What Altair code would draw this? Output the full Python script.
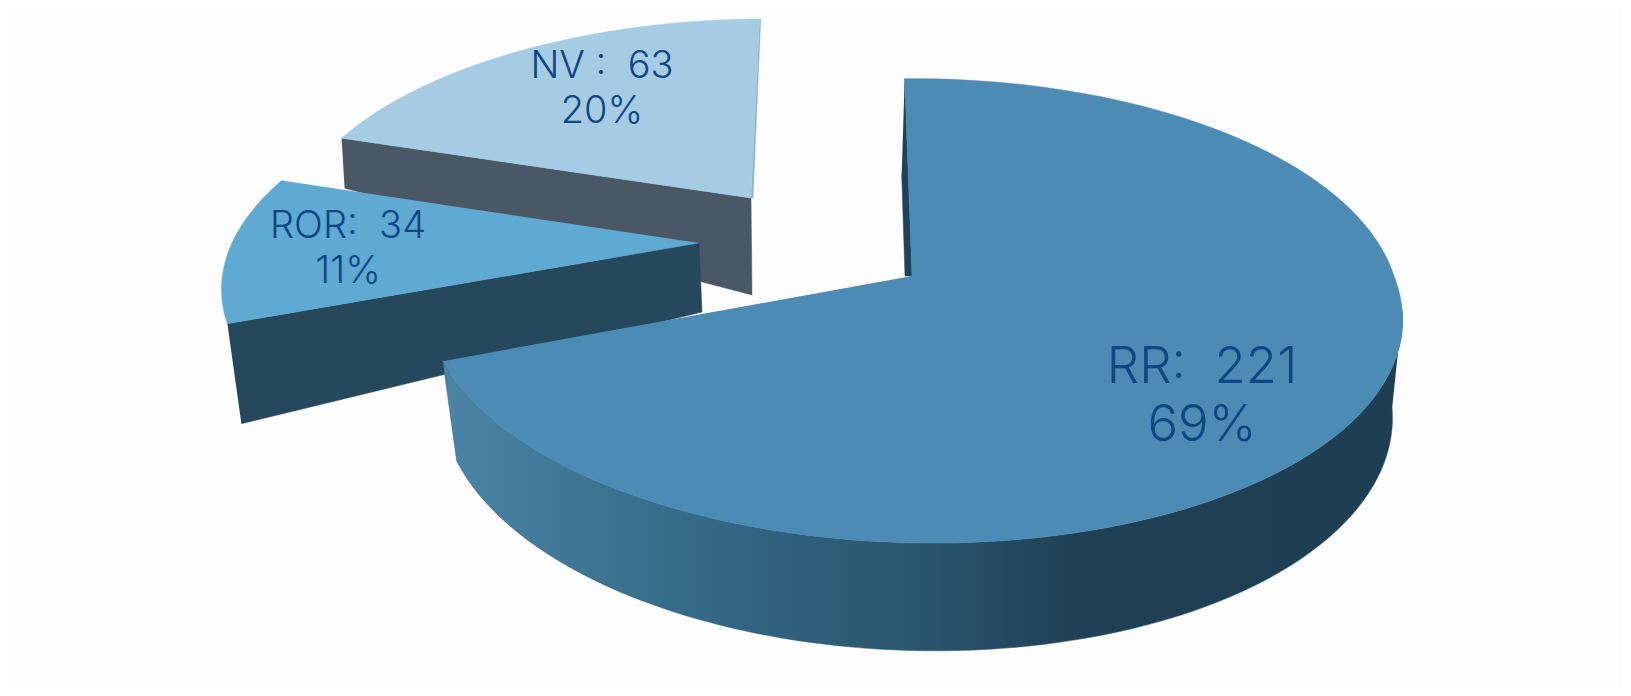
import math
import altair as alt
import pandas as pd

categories = ["RR", "ROR", "NV"]
counts = [221, 34, 63]
percents = ["69%", "11%", "20%"]

# Per-slice 3D look: apex, ellipse radii, skew of the near half, skew of the far half
top_colors = {"RR": "#4c8bb3", "ROR": "#5eaad3", "NV": "#a6cce4"}
wall_colors = {"ROR": "#26485d", "NV": "#4a5866"}
shape = {
    "RR": dict(apex=(912, 276), rx=482, ry=227, sx=-18, low=(914, 372), lrx=470, lry=237),
    "ROR": dict(apex=(699, 243), rx=467, ry=215, sx=28, low=(702, 312)),
    "NV": dict(apex=(751, 198), rx=455, ry=206, sx=18, low=(752, 295)),
}
ROTATION = -1.0
PERSPECTIVE = 0.15

label_text = {
    "RR": ["RR:\u00a0\u00a0221", "69%"],
    "ROR": ["ROR:\u00a0\u00a034", "11%"],
    "NV": ["NV\u00a0:\u00a0\u00a063", "20%"],
}
label_pos = {"RR": (1202, 368, 426, 51), "ROR": (348, 227, 272, 38), "NV": (602, 67, 112, 38)}


def project(angle, apex, rx, ry, sx):
    a = math.radians(angle)
    u, v = math.sin(a), math.cos(a)
    d = 1 + PERSPECTIVE * v
    skew = sx * v if (v < 0 or sx > 0) else 0
    return apex[0] + (rx * u + skew) / d, apex[1] - ry * v / d


def sweep(a0, a1, n=120):
    return [a0 + (a1 - a0) * i / n for i in range(n + 1)]


x_scale = alt.Scale(domain=[8, 1623], range=[0, 1615])
y_scale = alt.Scale(domain=[8, 688], range=[0, 680])


def polygon(points, fill):
    df = pd.DataFrame({"x": [p[0] for p in points], "y": [p[1] for p in points], "i": range(len(points))})
    return alt.Chart(df).mark_line(fill=fill, stroke=fill if isinstance(fill, str) else "#2f6280", strokeWidth=0.5, interpolate="linear").encode(
        x=alt.X("x:Q", scale=x_scale, axis=None),
        y=alt.Y("y:Q", scale=y_scale, axis=None),
        order=alt.Order("i:Q"),
    )


total = sum(counts)
spans = {}
start = ROTATION
for c, n in zip(categories, counts):
    spans[c] = (start, start + 360 * n / total)
    start += 360 * n / total

layers = []


def top(c):
    s = shape[c]
    a0, a1 = spans[c]
    return [s["apex"]] + [project(a, s["apex"], s["rx"], s["ry"], s["sx"]) for a in sweep(a0, a1)]


# NV
s = shape["NV"]
a0, a1 = spans["NV"]
A = project(a0, s["apex"], s["rx"], s["ry"], s["sx"])
B = project(a1, s["apex"], s["rx"], s["ry"], s["sx"])
A_low = (A[0] + 3, A[1] + 50)
layers.append(polygon([A, s["apex"], s["low"], A_low], wall_colors["NV"]))
layers.append(polygon([B, s["apex"], (s["apex"][0] + 2, s["apex"][1]), (B[0] + 1, B[1])], "#8fb2cc"))
layers.append(polygon(top("NV"), top_colors["NV"]))

# ROR
s = shape["ROR"]
a0, a1 = spans["ROR"]
A = project(a0, s["apex"], s["rx"], s["ry"], s["sx"])
A_low = (A[0] + 14, A[1] + 100)
layers.append(polygon([A, s["apex"], s["low"], A_low], wall_colors["ROR"]))
layers.append(polygon(top("ROR"), top_colors["ROR"]))

# RR
s = shape["RR"]
a0, a1 = spans["RR"]
rim = [project(a, s["apex"], s["rx"], s["ry"], s["sx"]) for a in sweep(98.6, a1)]
low = [project(a, s["low"], s["lrx"], s["lry"], s["sx"]) for a in sweep(98.6, a1)]
wall_fill = alt.Gradient(
    gradient="linear", x1=0, x2=1, y1=0, y2=0,
    stops=[
        alt.GradientStop(color="#4a84a6", offset=0),
        alt.GradientStop(color="#3f7694", offset=0.14),
        alt.GradientStop(color="#30637f", offset=0.33),
        alt.GradientStop(color="#2b5770", offset=0.48),
        alt.GradientStop(color="#204055", offset=0.66),
        alt.GradientStop(color="#1e3e54", offset=1),
    ],
)
layers.append(polygon(rim + low[::-1], wall_fill))
B = project(a0, s["apex"], s["rx"], s["ry"], s["sx"])
ap = s["apex"]
layers.append(polygon([B, ap, (ap[0] - 7, ap[1]), (B[0] - 3, B[1] + 95)], "#1f4258"))
layers.append(polygon(top("RR"), top_colors["RR"]))

# Labels
rows = []
for c in categories:
    x, y1, y2, size = label_pos[c]
    rows.append({"x": x, "y": y1, "t": label_text[c][0], "size": size})
    rows.append({"x": x, "y": y2, "t": label_text[c][1], "size": size})
for size in (51, 38):
    df = pd.DataFrame([r for r in rows if r["size"] == size])
    layers.append(
        alt.Chart(df).mark_text(font="Inter", fontWeight=300, fontSize=size, color="#0f4684", align="center", baseline="middle").encode(
            x=alt.X("x:Q", scale=x_scale, axis=None),
            y=alt.Y("y:Q", scale=y_scale, axis=None),
            text="t:N",
        )
    )

chart = (
    alt.layer(*layers)
    .properties(width=1615, height=680, padding=0, background="#fdfdfe")
    .configure_view(stroke=None)
)
chart.save("out.html", embed_options={"renderer": "svg", "actions": False})
